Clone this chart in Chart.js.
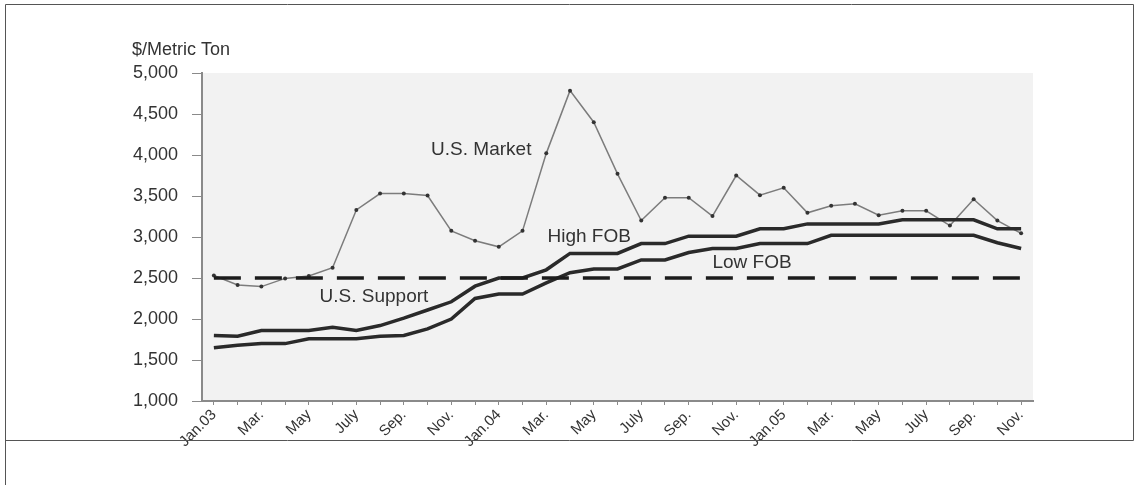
<!DOCTYPE html>
<html>
<head>
<meta charset="utf-8">
<title>Sugar prices</title>
<script src="https://cdn.jsdelivr.net/npm/chart.js@4.4.1/dist/chart.umd.min.js"></script>
<style>
  html, body { margin: 0; padding: 0; background: #fff; }
  .chart { position: relative; width: 1138px; height: 485px; }
</style>
</head>
<body>
<div class="chart">
  <canvas id="chart"></canvas>
</div>
<script>
// months Jan.03 .. Nov.05
const months = [
  'Jan.03', 'Feb.', 'Mar.', 'Apr.', 'May', 'June', 'July', 'Aug.', 'Sep.', 'Oct.', 'Nov.', 'Dec.',
  'Jan.04', 'Feb.', 'Mar.', 'Apr.', 'May', 'June', 'July', 'Aug.', 'Sep.', 'Oct.', 'Nov.', 'Dec.',
  'Jan.05', 'Feb.', 'Mar.', 'Apr.', 'May', 'June', 'July', 'Aug.', 'Sep.', 'Oct.', 'Nov.'
];

const usMarket = [
  2530, 2415, 2395, 2495, 2525, 2625, 3330, 3530, 3530, 3505, 3075, 2955,
  2880, 3075, 4020, 4785, 4400, 3770, 3200, 3480, 3480, 3255, 3750, 3510,
  3600, 3295, 3380, 3405, 3265, 3320, 3320, 3140, 3460, 3200, 3045
];

const highFob = [
  1800, 1790, 1860, 1860, 1860, 1900, 1860, 1920, 2010, 2110, 2210, 2400,
  2500, 2500, 2600, 2800, 2800, 2800, 2920, 2920, 3010, 3010, 3010, 3100,
  3100, 3160, 3160, 3160, 3160, 3210, 3210, 3210, 3210, 3100, 3100
];

const lowFob = [
  1650, 1680, 1700, 1700, 1760, 1760, 1760, 1790, 1800, 1880, 2000, 2250,
  2305, 2305, 2440, 2565, 2610, 2610, 2720, 2720, 2810, 2860, 2860, 2920,
  2920, 2920, 3020, 3020, 3020, 3020, 3020, 3020, 3020, 2930, 2860
];

const usSupport = months.map(() => 2500);

const yTicks = [1000, 1500, 2000, 2500, 3000, 3500, 4000, 4500, 5000];

// series names written on the plot, placed in data units (month index, $/t)
const notes = [
  { text: 'U.S. Market', x: 9.15, y: 4060 },
  { text: 'High FOB', x: 14.05, y: 3000 },
  { text: 'Low FOB', x: 21.0, y: 2685 },
  { text: 'U.S. Support', x: 4.45, y: 2268 }
];

const FONT = "'Liberation Sans', Arial, sans-serif";

const plotBg = {
  id: 'plotBg',
  beforeDraw(chart) {
    const { ctx, chartArea: a } = chart;
    ctx.save();
    ctx.fillStyle = '#f2f2f2';
    ctx.fillRect(a.left, a.top, a.right - a.left, a.bottom - a.top);
    ctx.restore();
  }
};

const labels = {
  id: 'labels',
  afterDatasetsDraw(chart) {
    const { ctx, chartArea: a } = chart;
    const xs = chart.scales.x, ys = chart.scales.y;
    ctx.save();
    ctx.fillStyle = '#333';
    ctx.font = '19px ' + FONT;
    ctx.textAlign = 'left';
    ctx.textBaseline = 'middle';
    notes.forEach(n => {
      ctx.fillText(n.text, xs.getPixelForValue(n.x), ys.getPixelForValue(n.y));
    });
    // unit label above the y axis
    ctx.font = '18px ' + FONT;
    ctx.fillText('$/Metric Ton', a.left - 70, a.top - 23);
    ctx.restore();
  },
  afterDraw(chart) {
    // the box around the figure
    const ctx = chart.ctx;
    ctx.save();
    ctx.strokeStyle = '#555';
    ctx.lineWidth = 1;
    ctx.beginPath();
    ctx.moveTo(5.5, 485);
    ctx.lineTo(5.5, 4.5);
    ctx.lineTo(1133.5, 4.5);
    ctx.lineTo(1133.5, 440.5);
    ctx.lineTo(5.5, 440.5);
    ctx.stroke();
    ctx.restore();
  }
};

new Chart(document.getElementById('chart'), {
  type: 'line',
  data: {
    labels: months,
    datasets: [
      {
        label: 'U.S. Support',
        data: usSupport,
        borderColor: '#1c1c1c',
        borderWidth: 3.5,
        borderDash: [27, 14],
        pointRadius: 0,
        fill: false
      },
      {
        label: 'Low FOB',
        data: lowFob,
        borderColor: '#2a2a2a',
        borderWidth: 3.5,
        pointRadius: 0,
        fill: false
      },
      {
        label: 'High FOB',
        data: highFob,
        borderColor: '#2a2a2a',
        borderWidth: 3.5,
        pointRadius: 0,
        fill: false
      },
      {
        label: 'U.S. Market',
        data: usMarket,
        borderColor: '#7c7c7c',
        borderWidth: 1.5,
        pointRadius: 2,
        pointBackgroundColor: '#333',
        pointBorderWidth: 0,
        fill: false
      }
    ]
  },
  options: {
    responsive: true,
    maintainAspectRatio: false,
    animation: false,
    layout: { padding: { top: 73, right: 105, bottom: 0, left: 0 } },
    plugins: {
      legend: { display: false },
      tooltip: { enabled: false },
      title: { display: false }
    },
    scales: {
      x: {
        type: 'category',
        offset: true,
        afterFit: s => { s.height = 84; },
        grid: {
          drawOnChartArea: false,
          tickLength: 4,
          color: '#8a8a8a'
        },
        border: { color: '#8a8a8a', width: 2 },
        ticks: {
          autoSkip: false,
          maxRotation: 45,
          minRotation: 45,
          padding: 1,
          color: '#333',
          font: { family: FONT, size: 15 },
          callback: (v, i) => (i % 2 === 0 ? months[i] : '')
        }
      },
      y: {
        min: 1000,
        max: 5000,
        afterFit: s => { s.width = 202; },
        afterBuildTicks: s => { s.ticks = yTicks.map(v => ({ value: v })); },
        grid: {
          drawOnChartArea: false,
          tickLength: 10,
          color: '#8a8a8a'
        },
        border: { color: '#8a8a8a', width: 2 },
        ticks: {
          padding: 14,
          color: '#333',
          font: { family: FONT, size: 18 },
          callback: v => v.toLocaleString('en-US')
        }
      }
    }
  },
  plugins: [plotBg, labels]
});
</script>
</body>
</html>
